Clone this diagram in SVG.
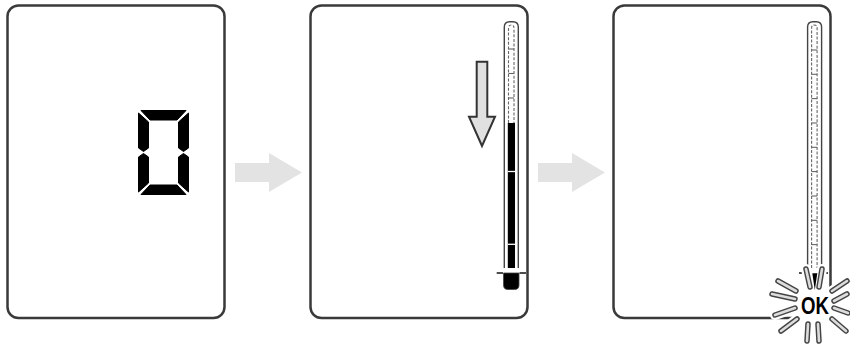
<svg xmlns="http://www.w3.org/2000/svg" width="850" height="350" viewBox="0 0 850 350">
<style>
.panel{fill:#fff;stroke:#3a3a3a;stroke-width:2.5}
.flow{fill:#e3e3e3}
.tube{fill:none;stroke:#444;stroke-width:1.4}
.col{fill:none;stroke:#666;stroke-width:1.1;stroke-dasharray:3 1.6}
.tick{stroke:#666;stroke-width:1.1}
.wtick{stroke:#fff;stroke-width:1.3}
.mark{stroke:#000;stroke-width:1.4}
.halo{stroke:#fff;stroke-width:10;stroke-linecap:round}
.rayo{stroke:#444;stroke-width:5.5;stroke-linecap:round}
.rayi{stroke:#ddd;stroke-width:2.6;stroke-linecap:round}
.seg{fill:#000;stroke:#000;stroke-width:1;stroke-linejoin:round}
</style>
<defs>
<g id="rays">
<line x1="810" y1="287" x2="806" y2="269"/>
<line x1="819" y1="287" x2="822" y2="269"/>
<line x1="796" y1="291" x2="778" y2="281"/>
<line x1="795" y1="299" x2="772" y2="294"/>
<line x1="795" y1="308" x2="775" y2="315"/>
<line x1="797" y1="319" x2="781" y2="331"/>
<line x1="808" y1="324" x2="807" y2="341"/>
<line x1="818" y1="324" x2="819" y2="341"/>
<line x1="832" y1="319" x2="846" y2="331"/>
<line x1="834" y1="308" x2="848" y2="313"/>
<line x1="834" y1="301" x2="847" y2="294"/>
<line x1="832" y1="291" x2="847" y2="281"/>
</g>
</defs>

<g id="flow-arrows">
<polygon class="flow" points="235,163 269,163 269,153 302,172.5 269,192 269,182 235,182"/>
<polygon class="flow" points="538,163 572,163 572,153 605,172.5 572,192 572,182 538,182"/>
</g>

<g id="panel1">
<rect class="panel" x="7.5" y="5.5" width="217" height="312.5" rx="11"/>
<g id="digit-zero">
<polygon class="seg" points="141,110.5 186,110.5 177,120 150,120"/>
<polygon class="seg" points="138.5,113 148.5,122 148.5,148 143.5,151.5 138.5,148"/>
<polygon class="seg" points="138.5,157 143.5,153.5 148.5,157 148.5,183 138.5,192"/>
<polygon class="seg" points="188.5,113 178.5,122 178.5,148 183.5,151.5 188.5,148"/>
<polygon class="seg" points="188.5,157 183.5,153.5 178.5,157 178.5,183 188.5,192"/>
<polygon class="seg" points="141,194.5 186,194.5 177,185 150,185"/>
</g>
</g>

<g id="panel2">
<rect class="panel" x="310.5" y="5.5" width="217" height="312.5" rx="11"/>
<polygon points="476.7,61.7 487.3,61.7 487.3,116.7 495,116.7 482,146 469,116.7 476.7,116.7" fill="#e0e0e0" stroke="#333" stroke-width="2"/>
<path class="tube" d="M504.3,268 V27 Q504.3,21.7 509.6,21.7 H513 Q518.3,21.7 518.3,27 V268"/>
<path class="col" d="M508.5,123 V28 Q508.5,25 511.3,25 Q514,25 514,28 V123"/>
<line class="tick" x1="508.5" y1="49" x2="514" y2="49"/>
<line class="tick" x1="508.5" y1="73.5" x2="514" y2="73.5"/>
<line class="tick" x1="508.5" y1="98" x2="514" y2="98"/>
<rect x="507.8" y="123" width="7.2" height="145" fill="#000"/>
<line class="wtick" x1="507.8" y1="171.5" x2="515" y2="171.5"/>
<line class="wtick" x1="507.8" y1="244.3" x2="515" y2="244.3"/>
<path d="M503.5,273 H519 V285 Q519,289.5 514.5,289.5 H508 Q503.5,289.5 503.5,285 Z" fill="#000" stroke="#444" stroke-width="0.8"/>
<line class="mark" x1="496.7" y1="273" x2="503" y2="273"/>
<line class="mark" x1="519.5" y1="273" x2="526" y2="273"/>
</g>

<g id="panel3">
<rect class="panel" x="613.5" y="5.5" width="217" height="312.5" rx="11"/>
<path class="tube" d="M807.6,268 V27 Q807.6,21.7 812.9,21.7 H816.3 Q821.6,21.7 821.6,27 V268"/>
<path class="col" d="M811.6,268 V28 Q811.6,25 814.4,25 Q817.1,25 817.1,28 V268"/>
<line class="tick" x1="811.6" y1="50" x2="817.1" y2="50"/>
<line class="tick" x1="811.6" y1="74.3" x2="817.1" y2="74.3"/>
<line class="tick" x1="811.6" y1="98.6" x2="817.1" y2="98.6"/>
<line class="tick" x1="811.6" y1="123" x2="817.1" y2="123"/>
<line class="tick" x1="811.6" y1="147.3" x2="817.1" y2="147.3"/>
<line class="tick" x1="811.6" y1="171.6" x2="817.1" y2="171.6"/>
<line class="tick" x1="811.6" y1="196" x2="817.1" y2="196"/>
<line class="tick" x1="811.6" y1="220.3" x2="817.1" y2="220.3"/>
<line class="tick" x1="811.6" y1="244.6" x2="817.1" y2="244.6"/>
<line class="mark" x1="799" y1="273" x2="806" y2="273"/>
<line class="mark" x1="822" y1="273" x2="828" y2="273"/>
<g id="ok-glow">
<circle cx="815" cy="305" r="21" fill="#fff"/>
<use href="#rays" class="halo"/>
<use href="#rays" class="rayo"/>
<use href="#rays" class="rayi"/>
<polygon points="812.3,273.3 817.3,273.3 814.8,290" fill="#000"/>
<text x="815" y="313.5" font-family="Liberation Sans, Arial, sans-serif" font-size="24" font-weight="bold" text-anchor="middle" textLength="28" lengthAdjust="spacingAndGlyphs" fill="#000">OK</text>
</g>
</g>
</svg>
